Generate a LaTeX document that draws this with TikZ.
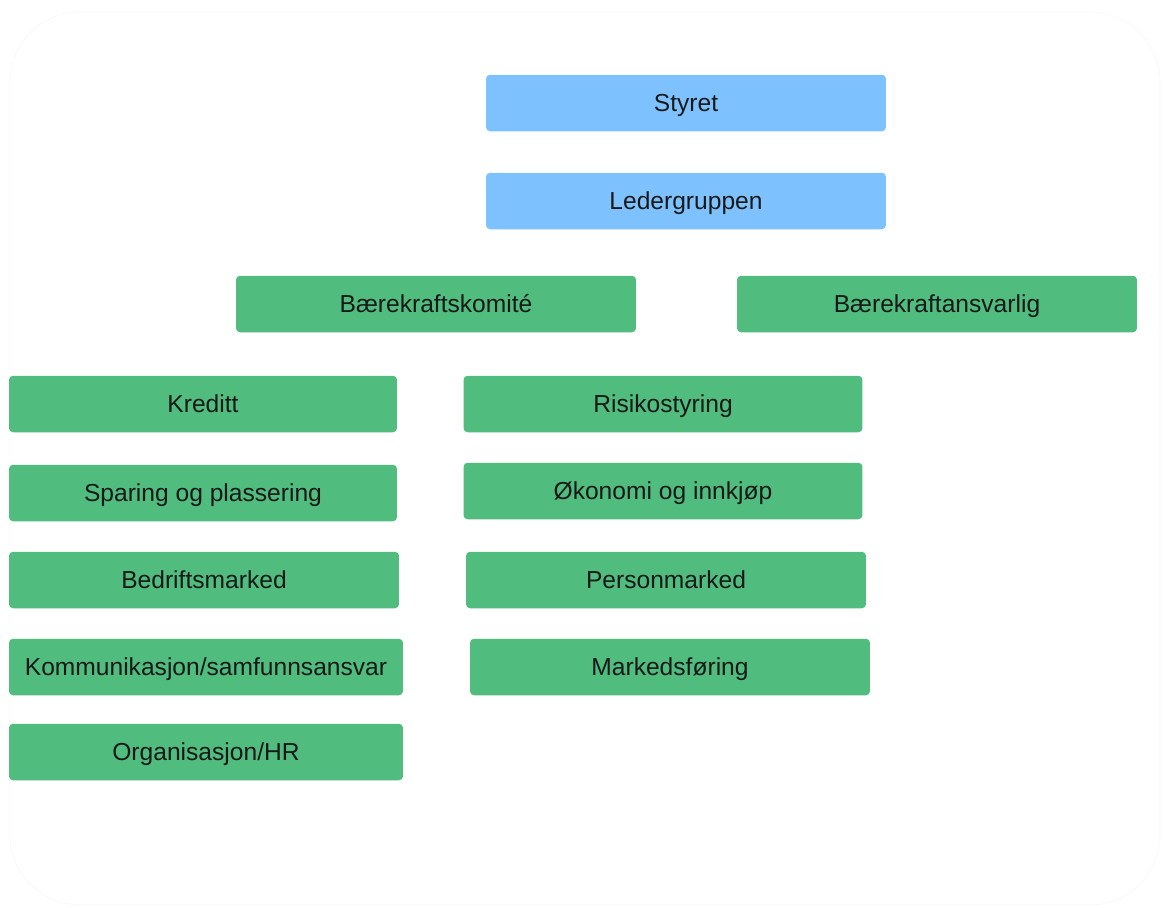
\documentclass[tikz,border=0pt]{standalone}
\usepackage{fontspec}
\setmainfont{Liberation Sans}
\usepackage{xcolor}
\usepackage{tikz}
\definecolor{boardblue}{RGB}{125,194,255}
\definecolor{unitgreen}{RGB}{80,188,126}

\begin{document}
\begin{tikzpicture}[x=0.02cm, y=-0.02cm,
                    grp/.style n args={2}{fill=#1,
                    minimum width=#2,
                    minimum height=1.13cm,
                    rounded corners=0.08cm,
                    text=black!90,
                    text height=11pt, text depth=1pt,
                    font=\fontsize{14}{16}\selectfont,
                    rectangle}]
    \useasboundingbox (0,0) rectangle (1163,907);
    \draw[black!3, rounded corners=1.4cm] (10,12) rectangle (1160,905);
    % top levels
    \node[grp={boardblue}{8cm}](n000) at (686,103) {Styret};
    \node[grp={boardblue}{8cm}](n001) at (686,201) {Ledergruppen};
    \node[grp={unitgreen}{8cm}](n010) at (436,304) {Bærekraftskomité};
    \node[grp={unitgreen}{8cm}](n011) at (937,304) {Bærekraftansvarlig};
    % left column
    \node[grp={unitgreen}{7.76cm}](n100) at (203,404) {Kreditt};
    \node[grp={unitgreen}{7.76cm}](n101) at (203,493) {Sparing og plassering};
    \node[grp={unitgreen}{7.8cm}](n102) at (204,580) {Bedriftsmarked};
    \node[grp={unitgreen}{7.88cm}](n103) at (206,667) {Kommunikasjon/samfunnsansvar};
    \node[grp={unitgreen}{7.88cm}](n104) at (206,752) {Organisasjon/HR};
    % right column
    \node[grp={unitgreen}{7.98cm}](n200) at (663,404) {Risikostyring};
    \node[grp={unitgreen}{7.98cm}](n201) at (663,491) {Økonomi og innkjøp};
    \node[grp={unitgreen}{8cm}](n202) at (666,580) {Personmarked};
    \node[grp={unitgreen}{8cm}](n203) at (670,667) {Markedsføring};
\end{tikzpicture}
\end{document}
